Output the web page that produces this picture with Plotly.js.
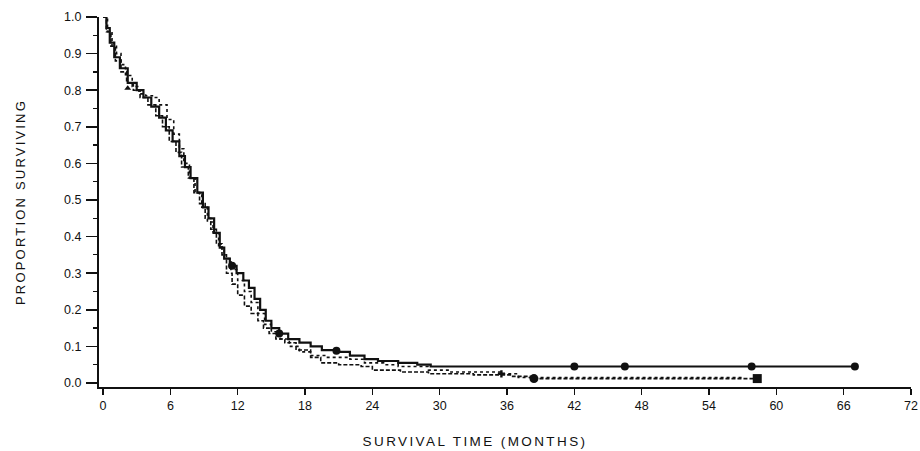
<!DOCTYPE html>
<html><head><meta charset="utf-8">
<script src="https://cdn.plot.ly/plotly-3.0.1.min.js"></script>
<style>
html,body{margin:0;padding:0;background:#fff;}
#chart{width:920px;height:451px;}
#chart .ytitle{letter-spacing:2.2px;}
#chart .annotation-text{letter-spacing:2.4px;}
</style></head><body><div id="chart"></div>
<script>
// Kaplan-Meier style survival curves (months, proportion surviving)
const solidT = [0, 0.3, 0.6, 1.0, 1.5, 2.2, 3.0, 3.6, 4.3, 5.0, 5.6, 6.2, 6.8, 7.3, 7.8, 8.4, 8.9, 9.4, 9.9, 10.4, 10.8, 11.3, 11.9, 12.5, 13.0, 13.5, 14.0, 14.5, 15.0, 15.7, 16.5, 17.5, 18.5, 19.5, 21.0, 22.0, 23.3, 24.5, 26.3, 28.0, 29.2, 67];
const solidP = [1.0, 0.97, 0.93, 0.89, 0.86, 0.82, 0.80, 0.78, 0.755, 0.725, 0.69, 0.66, 0.62, 0.59, 0.56, 0.52, 0.48, 0.45, 0.41, 0.37, 0.34, 0.32, 0.30, 0.28, 0.26, 0.23, 0.20, 0.17, 0.15, 0.135, 0.12, 0.11, 0.10, 0.09, 0.085, 0.075, 0.065, 0.06, 0.055, 0.05, 0.045, 0.045];

const dottedT = [0, 0.4, 0.8, 1.2, 1.6, 2.0, 2.6, 3.2, 3.8, 4.4, 5.0, 5.7, 6.3, 6.8, 7.2, 7.7, 8.2, 8.8, 9.3, 9.8, 10.3, 10.8, 11.4, 12.0, 12.6, 13.2, 13.8, 14.4, 15.0, 15.8, 16.6, 17.5, 18.5, 20.0, 22.0, 23.3, 25.0, 26.3, 29.0, 31.0, 35.5, 37.0, 57.0];
const dottedP = [1.0, 0.96, 0.92, 0.90, 0.87, 0.84, 0.81, 0.79, 0.785, 0.78, 0.76, 0.72, 0.68, 0.64, 0.60, 0.56, 0.52, 0.48, 0.44, 0.41, 0.37, 0.34, 0.31, 0.28, 0.25, 0.22, 0.19, 0.16, 0.14, 0.12, 0.10, 0.085, 0.075, 0.07, 0.065, 0.055, 0.05, 0.045, 0.035, 0.03, 0.025, 0.015, 0.015];

const dashedT = [0, 0.3, 0.7, 1.1, 1.6, 2.1, 2.7, 3.3, 4.0, 4.7, 5.3, 5.9, 6.5, 7.0, 7.6, 8.1, 8.6, 9.1, 9.6, 10.1, 10.6, 11.0, 11.5, 12.0, 12.6, 13.2, 13.8, 14.3, 14.8, 15.4, 16.2, 17.2, 18.5, 19.4, 21.0, 23.0, 24.0, 26.5, 29.0, 33.0, 36.5, 38.4, 58.3];
const dashedP = [1.0, 0.96, 0.92, 0.88, 0.85, 0.82, 0.80, 0.78, 0.76, 0.73, 0.70, 0.66, 0.63, 0.59, 0.56, 0.52, 0.49, 0.45, 0.42, 0.38, 0.35, 0.30, 0.27, 0.24, 0.21, 0.19, 0.17, 0.15, 0.135, 0.12, 0.11, 0.09, 0.07, 0.055, 0.05, 0.045, 0.035, 0.03, 0.025, 0.022, 0.018, 0.012, 0.012];

// censoring / event markers
const solidMarkT = [11.5, 15.7, 20.8, 42, 46.5, 57.8, 67];
const solidMarkP = [0.32, 0.135, 0.088, 0.045, 0.045, 0.045, 0.045];
const dashedMarkT = [38.4, 58.3];
const dashedMarkP = [0.012, 0.012];
const dottedMarkT = [2.2, 35.5];
const dottedMarkP = [0.805, 0.025];

const xTickVals = [0, 6, 12, 18, 24, 30, 36, 42, 48, 54, 60, 66, 72];
const xTickText = ['0', '6', '12', '18', '24', '30', '36', '42', '48', '54', '60', '66', '72'];
const yTickVals = [0, 0.1, 0.2, 0.3, 0.4, 0.5, 0.6, 0.7, 0.8, 0.9, 1.0];
const yTickText = ['0.0', '0.1', '0.2', '0.3', '0.4', '0.5', '0.6', '0.7', '0.8', '0.9', '1.0'];

const ink = '#111';
const traces = [
  {x: dottedT, y: dottedP, type: 'scatter', mode: 'lines', line: {shape: 'hv', color: ink, width: 1.6, dash: 'dot'}, cliponaxis: false, hoverinfo: 'skip'},
  {x: dashedT, y: dashedP, type: 'scatter', mode: 'lines', line: {shape: 'hv', color: ink, width: 1.6, dash: '4px,2px'}, cliponaxis: false, hoverinfo: 'skip'},
  {x: solidT, y: solidP, type: 'scatter', mode: 'lines', line: {shape: 'hv', color: ink, width: 2.2}, cliponaxis: false, hoverinfo: 'skip'},
  {x: solidMarkT, y: solidMarkP, type: 'scatter', mode: 'markers', marker: {symbol: 'circle', size: 8, color: ink}, cliponaxis: false},
  {x: dashedMarkT, y: dashedMarkP, type: 'scatter', mode: 'markers', marker: {symbol: ['circle', 'square'], size: 9, color: ink}, cliponaxis: false},
  {x: dottedMarkT, y: dottedMarkP, type: 'scatter', mode: 'markers', marker: {symbol: ['triangle-up', 'cross'], size: 6, color: ink}, cliponaxis: false}
];

const tickFont = {family: 'Liberation Sans, Arial, sans-serif', size: 12.5, color: '#111'};
const layout = {
  width: 920, height: 451,
  margin: {l: 99, r: 9, t: 17, b: 64},
  paper_bgcolor: '#fff', plot_bgcolor: '#fff',
  showlegend: false,
  xaxis: {
    range: [-0.36, 72], tickmode: 'array', tickvals: xTickVals, ticktext: xTickText,
    ticks: 'outside', ticklen: 6, tickwidth: 1.5, tickcolor: ink,
    showline: true, linecolor: ink, linewidth: 2,
    showgrid: false, zeroline: false, tickfont: tickFont
  },
  yaxis: {
    range: [-0.011, 1.0], tickmode: 'array', tickvals: yTickVals, ticktext: yTickText,
    ticks: 'outside', ticklen: 11, tickwidth: 1.5, tickcolor: ink,
    ticklabelstandoff: 2,
    minor: {tickvals: [0.05, 0.15, 0.25, 0.35, 0.45, 0.55, 0.65, 0.75, 0.85, 0.95], ticks: 'outside', ticklen: 4, tickcolor: ink, tickwidth: 1.2},
    showline: true, linecolor: ink, linewidth: 2,
    showgrid: false, zeroline: false, tickfont: tickFont,
    title: {text: 'PROPORTION SURVIVING', standoff: 36, font: {family: 'Liberation Sans, Arial, sans-serif', size: 13, color: '#111'}}
  },
  annotations: [{
    text: 'SURVIVAL TIME (MONTHS)', xref: 'paper', yref: 'paper',
    x: (475 - 99) / 812, y: -(441 - 387) / 370, xanchor: 'center', yanchor: 'middle',
    showarrow: false, font: {family: 'Liberation Sans, Arial, sans-serif', size: 13.5, color: '#111'}
  }]
};
Plotly.newPlot('chart', traces, layout, {displayModeBar: false, staticPlot: true});
</script></body></html>
